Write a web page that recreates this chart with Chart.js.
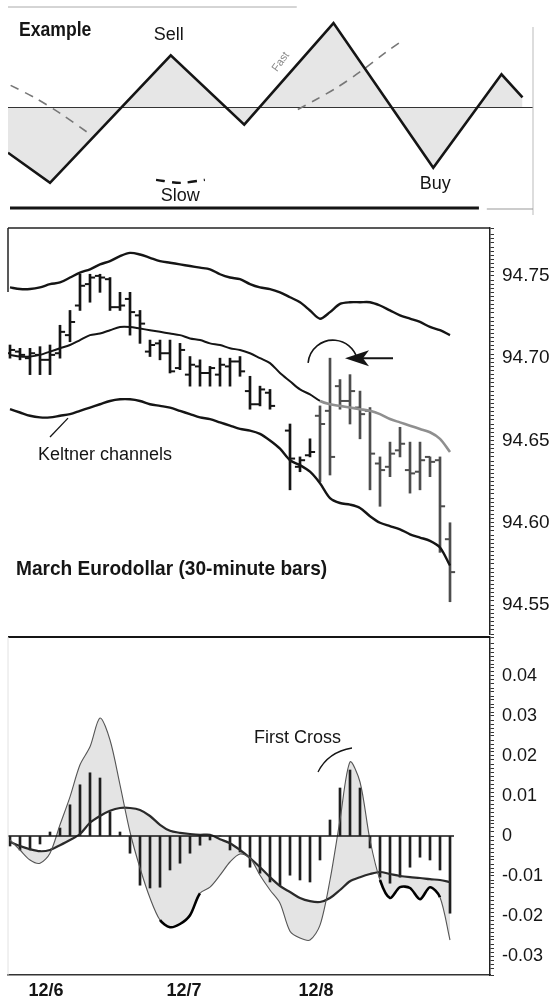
<!DOCTYPE html>
<html>
<head>
<meta charset="utf-8">
<script src="https://cdn.jsdelivr.net/npm/chart.js@4.4.1/dist/chart.umd.min.js"></script>
<style>
  html, body { margin: 0; padding: 0; background: #fff; }
  body { width: 550px; height: 999px; position: relative; overflow: hidden; }
  .panel { position: absolute; left: 0; width: 550px; }
</style>
</head>
<body>
<div class="panel" style="top:0;height:218px"><canvas id="exampleChart"></canvas></div>
<div class="panel" style="top:220px;height:420px"><canvas id="priceChart"></canvas></div>
<div class="panel" style="top:636px;height:363px"><canvas id="macdChart"></canvas></div>
<script>
// ---- Example panel (schematic) ----
const exampleX = [0, 8, 31, 45, 62, 81, 94, 98];
const exampleY = [-0.45, -0.75, 0.52, -0.17, 0.84, -0.6, 0.33, 0.1];
const slowX = [0.5, 5, 10, 15.2, 16, 28.2, 32.8, 37.5, 38, 55.2, 58.7, 62.7, 67.2, 72, 74.7];
const slowY = [0.22, 0.1, -0.06, -0.25, null, -0.72, -0.75, -0.72, null, -0.02, 0.08, 0.2, 0.36, 0.55, 0.65];

// ---- March Eurodollar 30-minute bars (index 27 = no bar) ----
const priceHigh = [94.708, 94.706, 94.706, 94.707, 94.708, 94.720, 94.729, 94.751, 94.751, 94.751,
  94.749, 94.740, 94.740, 94.729, 94.711, 94.711, 94.711, 94.709, 94.701, 94.699,
  94.695, 94.700, 94.700, 94.701, 94.689, 94.683, 94.681, null, 94.660, 94.640,
  94.651, 94.671, 94.700, 94.687, 94.690, 94.680, 94.670, 94.640, 94.649, 94.658,
  94.649, 94.649, 94.640, 94.640, 94.600];
const priceLow = [94.700, 94.699, 94.690, 94.690, 94.690, 94.700, 94.710, 94.729, 94.734, 94.740,
  94.729, 94.729, 94.714, 94.709, 94.701, 94.699, 94.691, 94.693, 94.683, 94.683,
  94.683, 94.683, 94.683, 94.689, 94.669, 94.671, 94.669, null, 94.620, 94.631,
  94.640, 94.625, 94.629, 94.669, 94.660, 94.651, 94.620, 94.610, 94.628, 94.640,
  94.618, 94.620, 94.628, 94.582, 94.552];
const priceOpen = [94.703, 94.704, 94.700, 94.702, 94.699, 94.703, 94.714, 94.732, 94.745, 94.750,
  94.748, 94.731, 94.736, 94.726, 94.704, 94.709, 94.703, 94.694, 94.690, 94.695,
  94.691, 94.690, 94.695, 94.698, 94.680, 94.672, 94.679, null, 94.656, 94.634,
  94.641, 94.665, 94.668, 94.683, 94.674, 94.670, 94.668, 94.636, 94.634, 94.644,
  94.632, 94.631, 94.640, 94.638, 94.590];
const priceClose = [94.705, 94.702, 94.703, 94.699, 94.702, 94.716, 94.722, 94.744, 94.749, 94.749,
  94.731, 94.732, 94.728, 94.721, 94.708, 94.703, 94.692, 94.705, 94.696, 94.691,
  94.694, 94.696, 94.698, 94.692, 94.672, 94.681, 94.671, null, 94.639, 94.638,
  94.643, 94.660, 94.640, 94.674, 94.680, 94.666, 94.642, 94.632, 94.642, 94.648,
  94.630, 94.638, 94.637, 94.610, 94.570];

// Keltner channels
const keltnerUpper = [94.743, 94.742, 94.742, 94.743, 94.745, 94.746, 94.749, 94.752, 94.754, 94.757,
  94.759, 94.762, 94.764, 94.763, 94.761, 94.759, 94.758, 94.757, 94.756, 94.755,
  94.754, 94.751, 94.749, 94.748, 94.745, 94.743, 94.742, 94.740, 94.737, 94.734,
  94.729, 94.724, 94.728, 94.733, 94.734, 94.734, 94.734, 94.732, 94.729, 94.726,
  94.724, 94.722, 94.719, 94.717, 94.714];
const keltnerMiddle = [94.702, 94.701, 94.701, 94.702, 94.704, 94.706, 94.708, 94.711, 94.714, 94.715,
  94.717, 94.719, 94.719, 94.718, 94.717, 94.716, 94.715, 94.714, 94.712, 94.711,
  94.709, 94.708, 94.706, 94.705, 94.703, 94.700, 94.697, 94.691, 94.686, 94.681,
  94.678, 94.674, 94.672, 94.671, 94.670, 94.669, 94.668, 94.666, 94.663, 94.661,
  94.659, 94.657, 94.655, 94.651, 94.643];
const keltnerLower = [94.669, 94.667, 94.665, 94.664, 94.664, 94.665, 94.666, 94.668, 94.670, 94.672,
  94.674, 94.675, 94.675, 94.674, 94.672, 94.671, 94.670, 94.668, 94.666, 94.664,
  94.663, 94.661, 94.659, 94.657, 94.656, 94.654, 94.650, 94.645, 94.638, 94.635,
  94.631, 94.624, 94.615, 94.612, 94.611, 94.609, 94.604, 94.600, 94.598, 94.596,
  94.593, 94.591, 94.589, 94.585, 94.574];

// ---- oscillator panel ----
const macdFast = [-0.001, -0.0035, -0.006, -0.0068, -0.0043, 0.0028, 0.0098, 0.0178, 0.0223, 0.0295,
  0.024, 0.0128, 0.001, -0.008, -0.0155, -0.021, -0.0228, -0.022, -0.0198, -0.0143,
  -0.0128, -0.0098, -0.0065, -0.0045, -0.0055, -0.0098, -0.0135, -0.0168, -0.0238, -0.0255,
  -0.026, -0.0223, -0.011, 0.004, 0.0185, 0.0135, -0.001, -0.011, -0.0155, -0.0128,
  -0.013, -0.0158, -0.0128, -0.0153, -0.026];
const macdSignal = [-0.0015, -0.0025, -0.0033, -0.0038, -0.0035, -0.0023, -0.001, 0.0005, 0.0033, 0.005,
  0.0063, 0.007, 0.007, 0.0065, 0.005, 0.0028, 0.0013, 0.0008, 0.0005, 0.0003,
  0.0003, -0.0008, -0.0018, -0.0035, -0.0055, -0.0078, -0.0103, -0.0125, -0.014, -0.0155,
  -0.0163, -0.0165, -0.0155, -0.0135, -0.0113, -0.0103, -0.0095, -0.009, -0.0095, -0.01,
  -0.0103, -0.0105, -0.0108, -0.011, -0.0115];
const macdHist = [-0.0025, -0.0035, -0.0035, -0.002, 0.001, 0.002, 0.0078, 0.0128, 0.0158, 0.0145,
  0.006, 0.001, -0.0043, -0.0123, -0.013, -0.0128, -0.0085, -0.0068, -0.0043, -0.0023,
  -0.001, 0, -0.0035, -0.004, -0.0078, -0.0093, -0.0115, -0.0123, -0.0098, -0.011,
  -0.0115, -0.006, 0.004, 0.012, 0.0165, 0.012, -0.003, -0.0103, -0.0118, -0.0103,
  -0.0078, -0.0053, -0.006, -0.0085, -0.0193];

const dayLabels = ['12/6', '12/7', '12/8'];
const dayTickPos = [3.6, 17.4, 30.6];

const FONT = '"Liberation Sans", Arial, Helvetica, sans-serif';
const INK = '#151515';
const GREYBAR = '#4d4d4d';

function line(ctx, x1, y1, x2, y2) {
  ctx.beginPath();
  ctx.moveTo(x1, y1);
  ctx.lineTo(x2, y2);
  ctx.stroke();
}

// bold title squeezed horizontally to look like a condensed face
function condensedText(ctx, text, x, y, size, squeeze) {
  ctx.save();
  ctx.font = 'bold ' + size + 'px ' + FONT;
  ctx.textAlign = 'left';
  ctx.textBaseline = 'middle';
  ctx.translate(x, y);
  ctx.scale(squeeze, 1);
  ctx.fillText(text, 0, 0);
  ctx.restore();
}

// keep the right axis from eating into the plot height
const noVerticalPad = s => { s.width = 60; s.paddingTop = 0; s.paddingBottom = 0; };

const baseOptions = {
  responsive: true,
  maintainAspectRatio: false,
  animation: false,
  events: [],
};

// ---------- Example chart ----------
const exampleDecor = {
  id: 'exampleDecor',
  afterDatasetsDraw(chart) {
    const { ctx, chartArea: a, scales: { x, y } } = chart;
    ctx.save();
    ctx.strokeStyle = '#aaa';
    ctx.lineWidth = 1;
    line(ctx, a.left, a.top, a.left + (a.right - a.left) * 0.55, a.top);
    ctx.strokeStyle = '#bbb';
    line(ctx, a.right, a.top + 20, a.right, a.bottom + 7);
    ctx.strokeStyle = INK;
    ctx.lineWidth = 3;
    line(ctx, a.left + 2, a.bottom, x.getPixelForValue(89.7), a.bottom);
    ctx.strokeStyle = '#999';
    ctx.lineWidth = 1.2;
    line(ctx, x.getPixelForValue(91.2), a.bottom + 1, a.right, a.bottom + 1);

    ctx.fillStyle = INK;
    condensedText(ctx, 'Example', 19, 30, 20, 0.88);

    ctx.textBaseline = 'middle';
    ctx.textAlign = 'center';
    ctx.font = '18px ' + FONT;
    ctx.fillText('Sell', x.getPixelForValue(exampleX[2]) - 2, y.getPixelForValue(exampleY[2]) - 20);
    ctx.fillText('Buy', x.getPixelForValue(exampleX[5]) + 2, y.getPixelForValue(exampleY[5]) + 16);
    ctx.fillText('Slow', x.getPixelForValue(slowX[6]), y.getPixelForValue(slowY[6]) + 13);

    const mx = (x.getPixelForValue(exampleX[3]) + x.getPixelForValue(exampleX[4])) / 2;
    const my = (y.getPixelForValue(exampleY[3]) + y.getPixelForValue(exampleY[4])) / 2;
    ctx.translate(mx - 8, my - 12);
    ctx.rotate(-0.95);
    ctx.fillStyle = '#888';
    ctx.font = '11px ' + FONT;
    ctx.fillText('Fast', 0, 0);
    ctx.restore();
  }
};

const slowDark = i => i === 5 || i === 6;

new Chart(document.getElementById('exampleChart'), {
  type: 'line',
  data: {
    datasets: [
      {
        data: exampleX.map((v, i) => ({ x: v, y: exampleY[i] })),
        borderColor: INK, borderWidth: 2.6, pointRadius: 0, tension: 0,
        fill: 'origin', backgroundColor: '#e6e6e6'
      },
      {
        data: slowX.map((v, i) => ({ x: v, y: slowY[i] })),
        borderColor: '#777', borderWidth: 1.6, borderDash: [9, 7], pointRadius: 0,
        tension: 0.3, spanGaps: false, fill: false,
        segment: {
          borderColor: c => slowDark(c.p0DataIndex) ? INK : undefined,
          borderWidth: c => slowDark(c.p0DataIndex) ? 2.4 : undefined
        }
      },
      {
        data: [{ x: 0, y: 0 }, { x: 100, y: 0 }],
        borderColor: '#333', borderWidth: 1.2, pointRadius: 0, fill: false
      }
    ]
  },
  options: {
    ...baseOptions,
    layout: { padding: { left: 8, right: 17, top: 7, bottom: 10 } },
    scales: {
      x: { type: 'linear', min: 0, max: 100, display: false },
      y: { min: -1, max: 1, display: false }
    },
    plugins: {
      legend: { display: false },
      tooltip: { enabled: false },
      filler: { drawTime: 'beforeDatasetsDraw' }
    }
  },
  plugins: [exampleDecor]
});

// ---------- Price chart ----------
const barIdx = priceHigh.map((v, i) => i).filter(i => priceHigh[i] !== null);
const barColor = c => (c.raw && Math.round(c.raw.x) >= 31) ? GREYBAR : INK;

const priceDecor = {
  id: 'priceDecor',
  afterDatasetsDraw(chart) {
    const { ctx, chartArea: a, scales: { x, y } } = chart;
    ctx.save();
    ctx.strokeStyle = '#222';
    ctx.lineWidth = 1.5;
    line(ctx, a.left, a.top, a.right, a.top);
    line(ctx, a.left, a.top, a.left, a.top + 64);

    // circled high and arrow
    const hy = y.getPixelForValue(priceHigh[32]);
    const cx = x.getPixelForValue(32.3);
    ctx.strokeStyle = INK;
    ctx.fillStyle = INK;
    ctx.lineWidth = 1.6;
    ctx.beginPath();
    ctx.arc(cx, hy + 7, 25, Math.PI * 1.03, Math.PI * 1.91);
    ctx.stroke();
    const tip = x.getPixelForValue(33.5);
    const tail = x.getPixelForValue(38.3);
    ctx.lineWidth = 2;
    line(ctx, tip + 15, hy, tail, hy);
    ctx.beginPath();
    ctx.moveTo(tip, hy);
    ctx.lineTo(tip + 24, hy - 8);
    ctx.lineTo(tip + 18, hy);
    ctx.lineTo(tip + 24, hy + 8);
    ctx.closePath();
    ctx.fill();

    // labels
    ctx.textBaseline = 'middle';
    ctx.textAlign = 'left';
    ctx.font = '18px ' + FONT;
    ctx.fillText('Keltner channels', 38, a.top + 227);
    ctx.lineWidth = 1.3;
    line(ctx, 50, a.top + 209, x.getPixelForValue(5.8), y.getPixelForValue(keltnerLower[6]) + 4);
    condensedText(ctx, 'March Eurodollar (30-minute bars)', 16, a.top + 341, 21, 0.91);
    ctx.restore();
  }
};

const priceTickLabel = v => {
  const n = Math.round(v * 10000);
  return n % 500 === 0 ? v.toFixed(2) : '';
};

new Chart(document.getElementById('priceChart'), {
  type: 'bar',
  data: {
    datasets: [
      {
        type: 'line', data: keltnerUpper.map((v, i) => ({ x: i, y: v })),
        borderColor: INK, borderWidth: 2.4, pointRadius: 0, tension: 0.3
      },
      {
        type: 'line', data: keltnerMiddle.map((v, i) => ({ x: i, y: v })),
        borderColor: INK, borderWidth: 2, pointRadius: 0, tension: 0.3,
        segment: {
          borderColor: c => c.p0DataIndex >= 31 ? '#8f8f8f' : undefined,
          borderWidth: c => c.p0DataIndex >= 31 ? 2.6 : undefined
        }
      },
      {
        type: 'line', data: keltnerLower.map((v, i) => ({ x: i, y: v })),
        borderColor: INK, borderWidth: 2.4, pointRadius: 0, tension: 0.3
      },
      {
        type: 'line', showLine: false,
        data: barIdx.map(i => ({ x: i - 0.25, y: priceOpen[i] })),
        pointStyle: 'line', pointRadius: 2.6, pointBorderWidth: 2, pointBorderColor: barColor
      },
      {
        type: 'line', showLine: false,
        data: barIdx.map(i => ({ x: i + 0.25, y: priceClose[i] })),
        pointStyle: 'line', pointRadius: 2.6, pointBorderWidth: 2, pointBorderColor: barColor
      },
      {
        type: 'bar', grouped: false,
        data: barIdx.map(i => ({ x: i, y: [priceLow[i], priceHigh[i]] })),
        backgroundColor: barColor, barThickness: 2, borderWidth: 0
      }
    ]
  },
  options: {
    ...baseOptions,
    layout: { padding: { left: 8, right: 0, top: 8, bottom: 5 } },
    scales: {
      x: { type: 'linear', min: -0.2, max: 48, offset: false, display: false },
      y: {
        position: 'right', min: 94.5324, max: 94.7791,
        afterFit: noVerticalPad,
        ticks: {
          stepSize: 0.0025, autoSkip: false, padding: 8, color: INK,
          font: { family: FONT, size: 19 }, callback: priceTickLabel
        },
        grid: { drawOnChartArea: false, drawTicks: true, tickLength: 4, color: '#333' },
        border: { display: true, color: '#222', width: 1.5 }
      }
    },
    plugins: {
      legend: { display: false },
      tooltip: { enabled: false }
    }
  },
  plugins: [priceDecor]
});

// ---------- Oscillator chart ----------
const thickFast = i => (i >= 15 && i <= 18) || (i >= 37 && i <= 42);

const macdDecor = {
  id: 'macdDecor',
  afterDatasetsDraw(chart) {
    const { ctx, chartArea: a, scales: { x, y } } = chart;
    ctx.save();
    ctx.strokeStyle = INK;
    ctx.lineWidth = 2.2;
    line(ctx, a.left, a.top, a.right, a.top);
    ctx.strokeStyle = '#e2e2e2';
    ctx.lineWidth = 1;
    line(ctx, a.left, a.top, a.left, a.bottom);

    const px = x.getPixelForValue(34);
    const py = y.getPixelForValue(macdFast[34]);
    ctx.fillStyle = INK;
    ctx.textBaseline = 'middle';
    ctx.textAlign = 'left';
    ctx.font = '18px ' + FONT;
    ctx.fillText('First Cross', 254, py - 24);
    ctx.strokeStyle = INK;
    ctx.lineWidth = 1.3;
    ctx.beginPath();
    ctx.moveTo(px - 32, py + 10);
    ctx.quadraticCurveTo(px - 22, py - 10, px + 2, py - 14);
    ctx.stroke();
    ctx.restore();
  }
};

const macdTickLabel = v => {
  const n = Math.round(v * 10000);
  if (n % 100 !== 0) return '';
  return n === 0 ? '0' : v.toFixed(2);
};

new Chart(document.getElementById('macdChart'), {
  type: 'bar',
  data: {
    datasets: [
      {
        type: 'line', data: [{ x: -0.2, y: 0 }, { x: 44.4, y: 0 }],
        borderColor: INK, borderWidth: 1.6, pointRadius: 0, fill: false
      },
      {
        type: 'line', data: macdFast.map((v, i) => ({ x: i, y: v })),
        borderColor: '#555', borderWidth: 1.1, pointRadius: 0, tension: 0.3,
        fill: '+1', backgroundColor: '#e4e4e4',
        segment: {
          borderColor: c => thickFast(c.p0DataIndex) ? '#000' : undefined,
          borderWidth: c => thickFast(c.p0DataIndex) ? 2.6 : undefined
        }
      },
      {
        type: 'line', data: macdSignal.map((v, i) => ({ x: i, y: v })),
        borderColor: '#2a2a2a', borderWidth: 2.2, pointRadius: 0, tension: 0.3, fill: false
      },
      {
        type: 'bar', grouped: false,
        data: macdHist.map((v, i) => ({ x: i, y: v })),
        backgroundColor: '#1e1e1e', barThickness: 2, borderWidth: 0
      }
    ]
  },
  options: {
    ...baseOptions,
    layout: { padding: { left: 8, right: 0, top: 1, bottom: 0 } },
    scales: {
      x: {
        type: 'linear', min: -0.2, max: 48, offset: false,
        afterBuildTicks: s => { s.ticks = dayTickPos.map(v => ({ value: v })); },
        afterFit: s => { s.height = 24; },
        ticks: {
          autoSkip: false, maxRotation: 0, padding: 5, color: INK,
          font: { family: FONT, size: 18, weight: 'bold' },
          callback: (v, i) => dayLabels[i]
        },
        grid: { display: false, drawTicks: false },
        border: { display: true, color: '#333', width: 1.5 }
      },
      y: {
        position: 'right', min: -0.03475, max: 0.04975,
        afterFit: noVerticalPad,
        ticks: {
          stepSize: 0.001, autoSkip: false, padding: 8, color: INK,
          font: { family: FONT, size: 18 }, callback: macdTickLabel
        },
        grid: { drawOnChartArea: false, drawTicks: true, tickLength: 4, color: '#333' },
        border: { display: true, color: '#222', width: 1.5 }
      }
    },
    plugins: {
      legend: { display: false },
      tooltip: { enabled: false },
      filler: { drawTime: 'beforeDatasetsDraw' }
    }
  },
  plugins: [macdDecor]
});
</script>
</body>
</html>
